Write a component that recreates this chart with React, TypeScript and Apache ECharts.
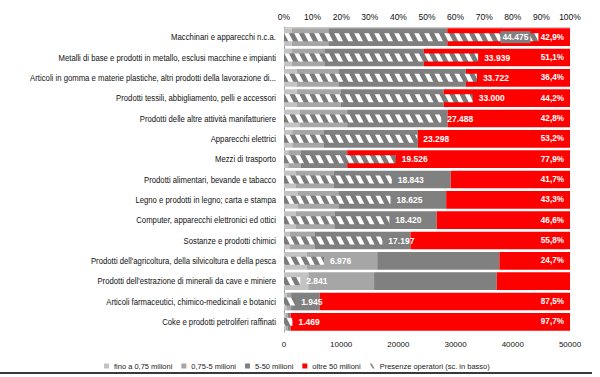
import React, { useEffect, useRef } from "react";
import * as echarts from "echarts";

const categories: string[] = [
  "Macchinari e apparecchi n.c.a.",
  "Metalli di base e prodotti in metallo, esclusi macchine e impianti",
  "Articoli in gomma e materie plastiche, altri prodotti della lavorazione di...",
  "Prodotti tessili, abbigliamento, pelli e accessori",
  "Prodotti delle altre attività manifatturiere",
  "Apparecchi elettrici",
  "Mezzi di trasporto",
  "Prodotti alimentari, bevande e tabacco",
  "Legno e prodotti in legno; carta e stampa",
  "Computer, apparecchi elettronici ed ottici",
  "Sostanze e prodotti chimici",
  "Prodotti dell'agricoltura, della silvicoltura e della pesca",
  "Prodotti dell'estrazione di minerali da cave e miniere",
  "Articoli farmaceutici, chimico-medicinali e botanici",
  "Coke e prodotti petroliferi raffinati",
];

const upTo075: number[] = [2.7, 2.7, 4.4, 4.4, 5.4, 2.9, 1.5, 4.2, 4.7, 4.1, 2.1, 7.9, 8.5, 1.0, 0.6];
const from075to5: number[] = [12.8, 11.4, 14.6, 15.5, 16.7, 10.9, 4.4, 13.3, 14.3, 13.7, 8.7, 24.7, 23.0, 1.5, 0.7];
const from5to50: number[] = [41.6, 34.8, 44.6, 35.9, 35.1, 33.0, 16.2, 40.8, 37.7, 35.6, 33.4, 42.7, 42.9, 10.0, 1.0];
const over50: number[] = [42.9, 51.1, 36.4, 44.2, 42.8, 53.2, 77.9, 41.7, 43.3, 46.6, 55.8, 24.7, 25.6, 87.5, 97.7];
const presenze: number[] = [44475, 33939, 33722, 33000, 27488, 23298, 19526, 18843, 18625, 18420, 17197, 6976, 2841, 1945, 1469];
const hiddenPctRows: number[] = [12];

const seriesNames: string[] = [
  "fino a 0,75 milioni",
  "0,75-5 milioni",
  "5-50 milioni",
  "oltre 50 milioni",
  "Presenze operatori (sc. in basso)",
];

const FONT = "'Liberation Sans', Arial, sans-serif";

function fmtThousands(v: number): string {
  return String(Math.round(v)).replace(/\B(?=(\d{3})+(?!\d))/g, ".");
}

function makePattern() {
  const c = document.createElement("canvas");
  c.width = 10;
  c.height = 20;
  const ctx = c.getContext("2d")!;
  ctx.fillStyle = "#7a7a7a";
  ctx.fillRect(0, 0, 10, 20);
  ctx.strokeStyle = "#ffffff";
  ctx.lineWidth = 4.2;
  for (let k = -2; k <= 2; k++) {
    ctx.beginPath();
    ctx.moveTo(k * 10 - 2, -4);
    ctx.lineTo(k * 10 + 12, 24);
    ctx.stroke();
  }
  return { image: c, repeat: "repeat", imageWidth: 10, imageHeight: 20 } as any;
}

export default function App() {
  const ref = useRef<HTMLDivElement>(null);
  useEffect(() => {
    if (!ref.current) return;
    const chart = echarts.init(ref.current, undefined, { renderer: "svg" });
    const pattern = makePattern();
    const stackColors = ["#c3c3c3", "#a6a6a6", "#808080", "#ff0000"];
    const stackData = [upTo075, from075to5, from5to50, over50];

    const stackSeries = stackData.map((arr, i) => ({
      name: seriesNames[i],
      type: "bar",
      stack: "pct",
      xAxisIndex: 0,
      yAxisIndex: 0,
      barCategoryGap: "13%",
      itemStyle: { color: stackColors[i] },
      data:
        i === 3
          ? arr.map((v, idx) =>
              hiddenPctRows.includes(idx) ? { value: v, label: { show: false } } : v
            )
          : arr,
      label:
        i === 3
          ? {
              show: true,
              position: "insideRight",
              distance: 6,
              color: "#fff",
              fontWeight: "bold",
              fontSize: 8.2,
              fontFamily: FONT,
              formatter: (p: any) => p.value.toFixed(1).replace(".", ",") + "%",
            }
          : { show: false },
    }));

    const hatchSeries = {
      name: seriesNames[4],
      type: "bar",
      xAxisIndex: 1,
      yAxisIndex: 1,
      barWidth: 8,
      itemStyle: { color: pattern },
      label: {
        show: true,
        position: "right",
        distance: 6,
        color: "#fff",
        fontWeight: "bold",
        fontSize: 8.5,
        fontFamily: FONT,
        formatter: (p: any) => fmtThousands(p.value),
      },
      data: presenze.map((v, idx) =>
        idx === 0
          ? {
              value: v,
              label: {
                position: "insideRight",
                distance: 8,
                backgroundColor: "#808080",
                padding: [2, 2, 1, 2],
              },
            }
          : v
      ),
    };

    const bottomLine = {
      type: "line",
      shape: { x1: 0, y1: 373, x2: 592, y2: 373 },
      style: { stroke: "#3a3a3a", lineWidth: 2 },
    };

    chart.setOption({
      animation: false,
      backgroundColor: "#ffffff",
      grid: { left: 284, right: 30, top: 27, bottom: 45, outerBoundsMode: "none", containLabel: false },
      legend: {
        top: 357,
        left: 99,
        itemWidth: 5,
        itemHeight: 5,
        itemGap: 9,
        textStyle: { fontSize: 7.5, color: "#222", fontFamily: FONT },
        data: seriesNames.map((n, i) =>
          i === 4
            ? { name: n, icon: "path://M0,0 L4,0 L10,10 L6,10 Z", itemStyle: { color: "#8c8c8c" } }
            : { name: n, icon: "rect" }
        ),
      },
      xAxis: [
        {
          type: "value",
          position: "top",
          min: 0,
          max: 100,
          interval: 10,
          axisLabel: {
            formatter: "{value}%",
            color: "#111",
            fontSize: 8.5,
            fontFamily: FONT,
            margin: 6,
          },
          axisLine: { show: true, lineStyle: { color: "#c8c8c8", width: 1 } },
          axisTick: { show: false },
          splitLine: { show: false },
        },
        {
          type: "value",
          position: "bottom",
          min: 0,
          max: 50000,
          interval: 10000,
          axisLabel: { color: "#111", fontSize: 8, fontFamily: FONT, margin: 8, formatter: (v: number) => String(v) },
          axisLine: { show: false },
          axisTick: { show: false },
          splitLine: { show: false },
        },
      ],
      yAxis: [
        {
          type: "category",
          inverse: true,
          data: categories,
          axisLabel: { show: false },
          axisLine: { show: true, lineStyle: { color: "#9a9a9a", width: 1 } },
          axisTick: { show: false },
        },
        {
          type: "category",
          inverse: true,
          data: categories,
          show: false,
        },
      ],
      graphic: [bottomLine],
      series: [...stackSeries, hatchSeries],
    });

    const labelGraphics = categories.map((c) => {
      const y = chart.convertToPixel({ yAxisIndex: 0 }, c) as number;
      return {
        type: "text",
        x: 276,
        y,
        scaleX: 0.815,
        style: {
          text: c,
          align: "right",
          verticalAlign: "middle",
          fontSize: 9.5,
          fontFamily: FONT,
          fill: "#111",
        },
      };
    });
    chart.setOption({ graphic: [bottomLine, ...labelGraphics] });

    return () => chart.dispose();
  }, []);
  return (
    <div
      ref={ref}
      style={{ position: "fixed", left: 0, top: 0, width: 600, height: 377 }}
    />
  );
}
